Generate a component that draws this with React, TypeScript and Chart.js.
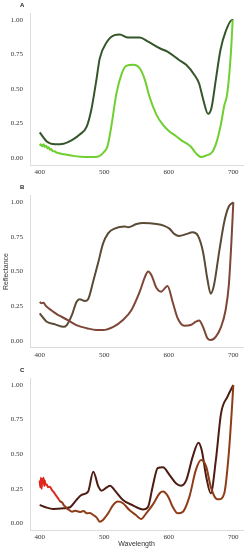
import React, { useEffect, useRef } from "react";
import { Chart, registerables } from "chart.js";

Chart.register(...registerables);

// ---- Panel A ----
const aDarkWl = [400,411,424,437,450,462,473,480,488,493,504,516,524,537,555,568,586,598,616,627,640,647,653,661,666,673,680,688,698,700];
const aDarkVal = [0.186,0.12,0.10,0.104,0.13,0.17,0.23,0.35,0.57,0.72,0.84,0.89,0.894,0.872,0.872,0.843,0.795,0.77,0.71,0.675,0.60,0.54,0.43,0.32,0.36,0.57,0.78,0.915,1.0,1.0];
const aLightWl = [400,402,404,406,408,410,412,414,416,418,420,423,426,429,435,442,452,463,478,491,498,505,511,519,527,534,545,555,563,570,581,591,601,611,619,627,634,642,650,657,668,675,681,686,690,694,697,699];
const aLightVal = [0.09,0.10,0.085,0.1,0.08,0.09,0.07,0.078,0.06,0.065,0.05,0.05,0.04,0.037,0.03,0.024,0.016,0.01,0.007,0.012,0.036,0.085,0.23,0.47,0.61,0.667,0.675,0.65,0.566,0.446,0.313,0.24,0.193,0.16,0.13,0.108,0.084,0.036,0.007,0.017,0.048,0.13,0.25,0.38,0.45,0.62,0.82,1.0];

// ---- Panel B ----
const bUpperWl = [400,411,424,437,442,450,457,462,470,475,483,491,498,506,516,532,537,550,560,581,593,601,609,616,627,637,645,653,660,665,670,678,686,693,700];
const bUpperVal = [0.198,0.137,0.118,0.10,0.113,0.186,0.28,0.30,0.287,0.30,0.43,0.57,0.70,0.776,0.81,0.825,0.82,0.843,0.85,0.843,0.83,0.81,0.77,0.757,0.77,0.783,0.76,0.643,0.44,0.34,0.40,0.64,0.86,0.97,1.0];
const bLowerWl = [400,403,406,409,411,415,421,427,434,445,457,473,488,498,514,529,542,555,563,568,573,581,588,596,598,606,614,624,634,642,647,653,660,665,673,681,688,693,697,700];
const bLowerVal = [0.28,0.27,0.275,0.255,0.245,0.23,0.21,0.19,0.173,0.145,0.113,0.09,0.077,0.077,0.10,0.15,0.22,0.354,0.46,0.50,0.475,0.38,0.354,0.39,0.395,0.28,0.16,0.108,0.113,0.137,0.145,0.10,0.017,0.005,0.03,0.10,0.22,0.40,0.71,1.0];

// ---- Panel C ----
const cDarkWl = [400,411,421,437,447,457,465,475,483,491,496,504,509,516,529,545,560,568,575,583,591,601,611,619,627,637,646,651,658,665,673,681,691,700];
const cDarkVal = [0.133,0.113,0.104,0.108,0.116,0.169,0.205,0.229,0.373,0.265,0.236,0.26,0.272,0.24,0.169,0.128,0.10,0.12,0.265,0.40,0.405,0.35,0.29,0.272,0.31,0.48,0.583,0.53,0.337,0.217,0.458,0.795,0.916,1.0];
const cLowerWl = [400,401,402,403,404,405,406,407,408,409,411,413,416,419,421,424,427,430,432,435,437,440,442,446,450,455,460,463,468,473,478,483,488,493,498,506,514,521,529,539,549,557,565,575,586,591,599,606,614,622,632,642,650,658,665,673,678,686,693,698,700];
const cLowerVal = [0.31,0.26,0.33,0.25,0.32,0.30,0.33,0.27,0.31,0.28,0.28,0.26,0.265,0.24,0.23,0.21,0.19,0.17,0.157,0.15,0.133,0.12,0.108,0.095,0.084,0.09,0.085,0.082,0.088,0.072,0.075,0.06,0.043,0.012,0.024,0.072,0.133,0.157,0.145,0.096,0.06,0.031,0.072,0.133,0.217,0.229,0.193,0.12,0.072,0.084,0.193,0.386,0.458,0.41,0.265,0.18,0.173,0.217,0.506,0.843,1.0];

// ---- Axis ticks ----
const xTicks = [400, 500, 600, 700];
const yTicks = [0, 0.25, 0.5, 0.75, 1.0];

const zip = (wl: number[], v: number[]) => wl.map((x, i) => ({ x, y: v[i] }));

type Series = { wl: number[]; val: number[]; color: string; noiseColor?: string; noiseEnd?: number };
type PanelSpec = {
  letter: string;
  top: number;
  height: number;
  padTop: number;
  xAxisH: number;
  yTitle?: string;
  xTitle?: string;
  series: Series[];
};

const panels: PanelSpec[] = [
  {
    letter: "A", top: 0, height: 180, padTop: 13, xAxisH: 15,
    series: [
      { wl: aLightWl, val: aLightVal, color: "#6fcf30" },
      { wl: aDarkWl, val: aDarkVal, color: "#35562b" },
    ],
  },
  {
    letter: "B", top: 182, height: 183, padTop: 13.4, xAxisH: 17.4, yTitle: "Reflectance",
    series: [
      { wl: bLowerWl, val: bLowerVal, color: "#7d4636" },
      { wl: bUpperWl, val: bUpperVal, color: "#5b4b36" },
    ],
  },
  {
    letter: "C", top: 365, height: 185, padTop: 13.1, xAxisH: 19.8, xTitle: "Wavelength",
    series: [
      { wl: cLowerWl, val: cLowerVal, color: "#8f3c18", noiseColor: "#e0261c", noiseEnd: 428 },
      { wl: cDarkWl, val: cDarkVal, color: "#4d1c12" },
    ],
  },
];

const tickFont = { family: "'Liberation Serif', 'DejaVu Serif', serif", size: 7 };
const titleFont = { family: "'Liberation Sans', Arial, sans-serif", size: 7 };
const axisColor = "#dcdcdc";

function Panel({ spec }: { spec: PanelSpec }) {
  const ref = useRef<HTMLCanvasElement | null>(null);
  useEffect(() => {
    if (!ref.current) return;
    const chart = new Chart(ref.current, {
      type: "line",
      data: {
        datasets: spec.series.map((s) => ({
          data: zip(s.wl, s.val),
          borderColor: s.color,
          borderWidth: 2,
          pointRadius: 0,
          fill: false,
          cubicInterpolationMode: "monotone" as const,
          segment: s.noiseColor
            ? {
                borderColor: (ctx: any) =>
                  ctx.p0.parsed.x < (s.noiseEnd as number) ? s.noiseColor : s.color,
              }
            : undefined,
        })),
      },
      options: {
        responsive: false,
        animation: false,
        layout: { padding: { top: spec.padTop, right: 6, left: 0, bottom: 0 } },
        plugins: { legend: { display: false }, tooltip: { enabled: false }, title: { display: false } },
        scales: {
          x: {
            type: "linear",
            min: 385,
            max: 715,
            grid: { display: false, drawTicks: false },
            border: { display: true, color: axisColor, width: 1 },
            afterBuildTicks: (scale: any) => {
              scale.ticks = xTicks.map((v) => ({ value: v }));
            },
            afterFit: (scale: any) => {
              scale.height = spec.xAxisH;
            },
            ticks: { font: tickFont, color: "#333", padding: 3, maxRotation: 0, callback: (v: any) => String(v) },
            title: spec.xTitle
              ? { display: true, text: spec.xTitle, font: titleFont, color: "#333", padding: { top: 0, bottom: 1.5 } }
              : { display: false },
          },
          y: {
            type: "linear",
            min: -0.05,
            max: 1.05,
            grid: { display: false, drawTicks: false },
            border: { display: true, color: axisColor, width: 1 },
            afterBuildTicks: (scale: any) => {
              scale.ticks = yTicks.map((v) => ({ value: v }));
            },
            afterFit: (scale: any) => {
              scale.width = 30;
            },
            ticks: { font: tickFont, color: "#333", padding: 7, callback: (v: any) => Number(v).toFixed(2) },
            title: spec.yTitle
              ? { display: true, text: spec.yTitle, font: titleFont, color: "#333", padding: { top: 2, bottom: 0 } }
              : { display: false },
          },
        },
      } as any,
    });
    return () => chart.destroy();
  }, [spec]);

  return (
    <div style={{ position: "absolute", left: 0, top: spec.top, width: 249, height: spec.height }}>
      <canvas ref={ref} width={249} height={spec.height} style={{ display: "block", width: 249, height: spec.height }} />
      <div
        style={{
          position: "absolute",
          left: 20,
          top: 1,
          fontFamily: "'Liberation Sans', Arial, sans-serif",
          fontSize: 6,
          fontWeight: "bold",
          color: "#222",
          lineHeight: "8px",
        }}
      >
        {spec.letter}
      </div>
    </div>
  );
}

export default function App() {
  return (
    <div style={{ position: "fixed", left: 0, top: 0, width: 249, height: 550, background: "#fff", overflow: "hidden" }}>
      {panels.map((p) => (
        <Panel key={p.letter} spec={p} />
      ))}
    </div>
  );
}
